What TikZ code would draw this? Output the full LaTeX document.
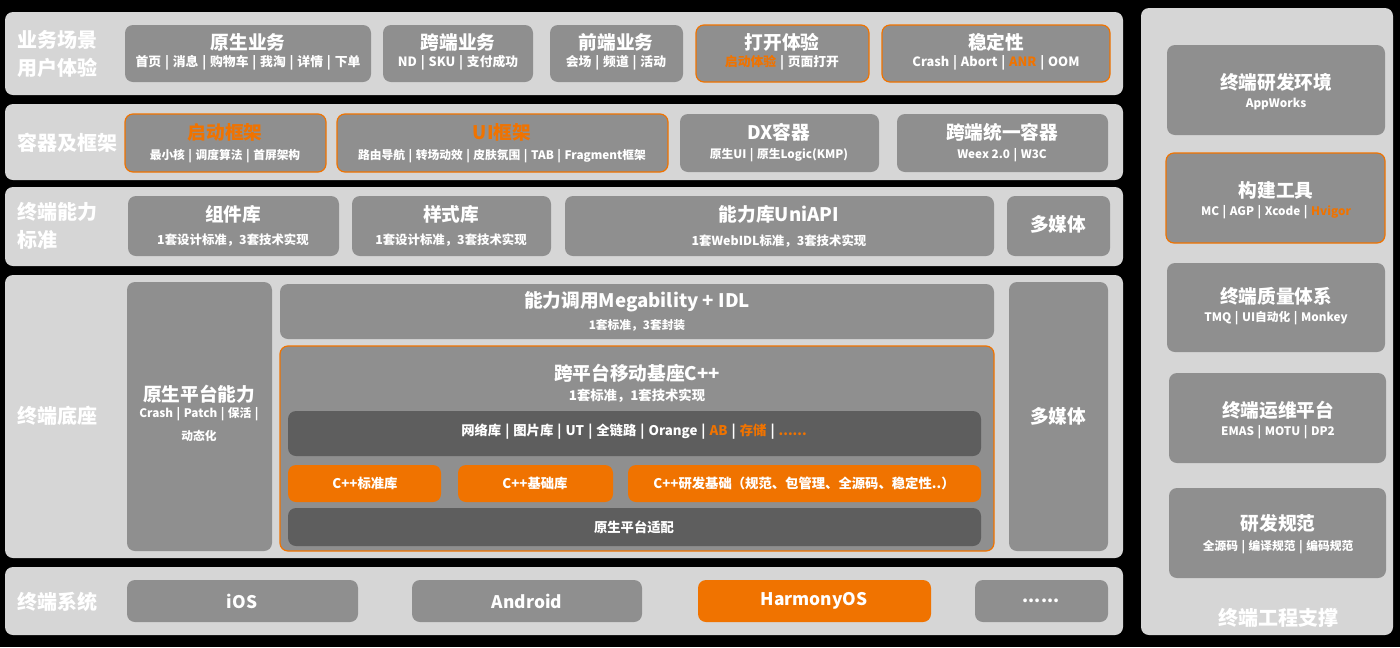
\documentclass[tikz,border=0pt]{standalone}
\usepackage{fontspec}
\setmainfont{Noto Sans CJK SC}
\definecolor{panelc}{HTML}{D6D6D6}
\definecolor{boxc}{HTML}{8F8F8F}
\definecolor{darkc}{HTML}{5E5E5E}
\definecolor{orc}{HTML}{F07300}
\newcommand\vsep{\hspace{0.3em}|\hspace{0.3em}}
\newcommand\orx[1]{\textcolor{orc}{#1}}
% name, style, x1, y1, x2, y2
\newcommand\bx[6]{\node[#2, minimum width={(#5-#3)*0.75pt}, minimum height={(#6-#4)*0.75pt}] (#1) at ({(#3+#5)/2},{(#4+#6)/2}) {};}
\tikzset{
  panel/.style={fill=panelc, rounded corners=6pt, inner sep=0pt, outer sep=0pt},
  gbox/.style={fill=boxc, rounded corners=6pt, inner sep=0pt, outer sep=0pt},
  obox/.style={gbox, draw=orc, line width=0.9pt},
  dbox/.style={fill=darkc, rounded corners=6pt, inner sep=0pt, outer sep=0pt},
  fbox/.style={fill=orc, rounded corners=6pt, inner sep=0pt, outer sep=0pt},
  ttl/.style={text=white, font=\bfseries\fontsize{14}{16}\selectfont, inner sep=0pt},
  sub/.style={text=white, font=\bfseries\fontsize{8.8}{11}\selectfont, inner sep=0pt},
  subl/.style={text=white, font=\bfseries\fontsize{9.6}{11}\selectfont, inner sep=0pt},
  subm/.style={text=white, font=\bfseries\fontsize{9.3}{11}\selectfont, inner sep=0pt},
  mid/.style={text=white, font=\bfseries\fontsize{10}{12}\selectfont, inner sep=0pt},
  os/.style={text=white, font=\bfseries\fontsize{13}{15}\selectfont, inner sep=0pt},
  lbl/.style={text=white, font=\bfseries\fontsize{15}{21}\selectfont, align=left, inner sep=0pt, anchor=west},
}
\begin{document}
\begin{tikzpicture}[x=0.75pt, y=-0.75pt]
\path[fill=black, use as bounding box] (0,0) rectangle (1400,647);

% ---------- Row 1 ----------
\bx{r1}{panel}{5}{12}{1123}{95}
\node[lbl] (l1) at (17,54) {业务场景\\用户体验};
\bx{b11}{gbox}{125}{25}{371}{82}
\node[ttl] (b11t) at (248,42) {原生业务};
\node[subl] (b11s) at (248,63) {首页\vsep 消息\vsep 购物车\vsep 我淘\vsep 详情\vsep 下单};
\bx{b12}{gbox}{383}{25}{533}{82}
\node[ttl] (b12t) at (458,42) {跨端业务};
\node[subl] (b12s) at (458,63) {ND\vsep SKU\vsep 支付成功};
\bx{b13}{gbox}{550}{25}{683}{82}
\node[ttl] (b13t) at (616,42) {前端业务};
\node[subl] (b13s) at (616,63) {会场\vsep 频道\vsep 活动};
\bx{b14}{obox}{696}{25}{869}{82}
\node[ttl] (b14t) at (782,42) {打开体验};
\node[subl] (b14s) at (782,63) {\orx{启动体验}\vsep 页面打开};
\bx{b15}{obox}{882}{25}{1110}{82}
\node[ttl] (b15t) at (996,42) {稳定性};
\node[subl] (b15s) at (996,63) {Crash\vsep Abort\vsep \orx{ANR}\vsep OOM};

% ---------- Row 2 ----------
\bx{r2}{panel}{5}{104}{1123}{180}
\node[lbl] (l2) at (17,143) {容器及框架};
\bx{b21}{obox}{125}{114}{326}{172}
\node[ttl, text=orc] (b21t) at (225,132) {启动框架};
\node[sub] (b21s) at (225,156) {最小核\vsep 调度算法\vsep 首屏架构};
\bx{b22}{obox}{337}{114}{668}{172}
\node[ttl, text=orc] (b22t) at (502,132) {UI框架};
\node[sub] (b22s) at (502,156) {路由导航\vsep 转场动效\vsep 皮肤氛围\vsep TAB\vsep Fragment框架};
\bx{b23}{gbox}{680}{114}{879}{172}
\node[ttl] (b23t) at (779,132) {DX容器};
\node[sub] (b23s) at (779,155) {原生UI\vsep 原生Logic(KMP)};
\bx{b24}{gbox}{897}{114}{1108}{172}
\node[ttl] (b24t) at (1002,132) {跨端统一容器};
\node[sub] (b24s) at (1002,155) {Weex 2.0\vsep W3C};

% ---------- Row 3 ----------
\bx{r3}{panel}{5}{187}{1123}{266}
\node[lbl] (l3) at (17,226) {终端能力\\标准};
\bx{b31}{gbox}{128}{196}{339}{256}
\node[ttl] (b31t) at (233,214) {组件库};
\node[subm] (b31s) at (233,240) {1套设计标准，3套技术实现};
\bx{b32}{gbox}{352}{196}{551}{256}
\node[ttl] (b32t) at (451,214) {样式库};
\node[subm] (b32s) at (451,240) {1套设计标准，3套技术实现};
\bx{b33}{gbox}{565}{196}{994}{256}
\node[ttl] (b33t) at (779,214) {能力库UniAPI};
\node[subm] (b33s) at (779,241) {1套WebIDL标准，3套技术实现};
\bx{b34}{gbox}{1007}{196}{1110}{256}
\node[ttl] (b34t) at (1058,224) {多媒体};

% ---------- Row 4 ----------
\bx{r4}{panel}{5}{275}{1123}{558}
\node[lbl] (l4) at (17,416) {终端底座};
\bx{b41}{gbox}{127}{282}{272}{551}
\node[ttl] (b41t) at (199,394) {原生平台能力};
\node[sub] (b41s) at (199,414) {Crash\vsep Patch\vsep 保活\vsep};
\node[sub] (b41u) at (199,436) {动态化};
\bx{b42}{gbox}{280}{284}{994}{339}
\node[ttl] (b42t) at (637,302) {能力调用Megability + IDL};
\node[sub] (b42s) at (637,325) {1套标准，3套封装};
\bx{b43}{obox}{280}{346}{994}{551}
\node[ttl] (b43t) at (637,373) {跨平台移动基座C++};
\node[mid] (b43s) at (637,396) {1套标准，1套技术实现};
\bx{b44}{dbox}{288}{411}{981}{456}
\node[mid] (b44t) at (634,432) {网络库\vsep 图片库\vsep UT\vsep 全链路\vsep Orange\vsep \orx{AB}\vsep \orx{存储}\vsep \orx{......}};
\bx{b45}{fbox}{288}{465}{441}{502}
\node[mid] (b45t) at (365,483) {C++标准库};
\bx{b46}{fbox}{458}{465}{613}{502}
\node[mid] (b46t) at (535,483) {C++基础库};
\bx{b47}{fbox}{628}{465}{981}{502}
\node[mid] (b47t) at (804,483) {C++研发基础（规范、包管理、全源码、稳定性..）};
\bx{b48}{dbox}{288}{508}{981}{546}
\node[mid] (b48t) at (634,527) {原生平台适配};
\bx{b49}{gbox}{1009}{282}{1108}{551}
\node[ttl] (b49t) at (1058,416) {多媒体};

% ---------- Row 5 ----------
\bx{r5}{panel}{5}{567}{1123}{635}
\node[lbl] (l5) at (17,602) {终端系统};
\bx{b51}{gbox}{127}{580}{358}{622}
\node[os] (b51t) at (242,601) {iOS};
\bx{b52}{gbox}{412}{580}{642}{622}
\node[os] (b52t) at (527,601) {Android};
\bx{b53}{fbox}{698}{580}{931}{622}
\node[os] (b53t) at (814,601) {HarmonyOS};
\bx{b54}{gbox}{975}{580}{1108}{622}
\node[os] (b54t) at (1041,601) {......};

% ---------- Right column ----------
\bx{rc}{panel}{1141}{8}{1393}{635}
\bx{c1}{gbox}{1167}{45}{1385}{135}
\node[ttl] (c1t) at (1276,82) {终端研发环境};
\node[sub] (c1s) at (1276,104) {AppWorks};
\bx{c2}{obox}{1166}{153}{1385}{243}
\node[ttl] (c2t) at (1276,190) {构建工具};
\node[sub] (c2s) at (1276,212) {MC\vsep AGP\vsep Xcode\vsep \orx{Hvigor}};
\bx{c3}{gbox}{1167}{263}{1385}{352}
\node[ttl] (c3t) at (1276,296) {终端质量体系};
\node[sub] (c3s) at (1276,318) {TMQ\vsep UI自动化\vsep Monkey};
\bx{c4}{gbox}{1169}{373}{1386}{463}
\node[ttl] (c4t) at (1278,410) {终端运维平台};
\node[sub] (c4s) at (1278,432) {EMAS\vsep MOTU\vsep DP2};
\bx{c5}{gbox}{1169}{488}{1386}{578}
\node[ttl] (c5t) at (1278,523) {研发规范};
\node[sub] (c5s) at (1278,547) {全源码\vsep 编译规范\vsep 编码规范};
\node[ttl, font=\bfseries\fontsize{15}{17}\selectfont] (rcl) at (1278,618) {终端工程支撑};
\end{tikzpicture}
\end{document}
